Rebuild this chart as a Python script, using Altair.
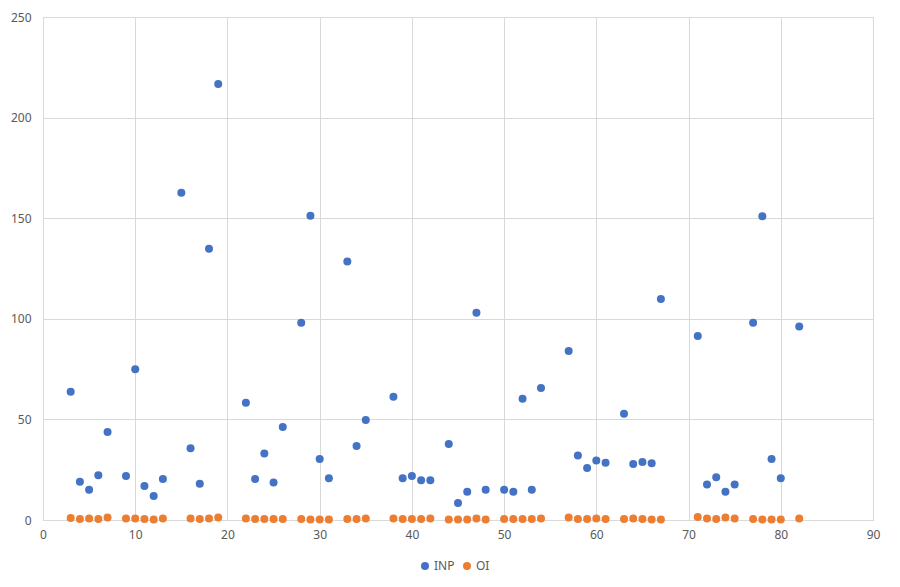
import altair as alt
import pandas as pd

inp_x = [3, 4, 5, 6, 7, 9, 10, 11, 12, 13, 15, 16, 17, 18, 19, 22, 23, 24, 25, 26,
         28, 29, 30, 31, 33, 34, 35, 38, 39, 40, 41, 42, 44, 45, 46, 47, 48, 50, 51, 52,
         53, 54, 57, 58, 59, 60, 61, 63, 64, 65, 66, 67, 71, 72, 73, 74, 75, 77, 78, 79,
         80, 82]
inp_y = [63.8, 19, 15, 22.2, 43.7, 21.9, 74.9, 16.9, 11.9, 20.4, 162.7, 35.6, 18, 134.8, 216.7,
         58.3, 20.4, 33.1, 18.7, 46.2,
         98, 151.2, 30.3, 20.7, 128.5, 36.8, 49.7, 61.3, 20.7, 21.9, 19.7, 19.7, 37.8, 8.4, 14, 103,
         15, 15, 14, 60.3, 15, 65.6, 84, 32, 25.8, 29.6, 28.5, 52.8, 27.8, 28.8, 28.2, 109.8,
         91.4, 17.7, 21.2, 14, 17.7, 98, 151, 30.3, 20.7, 96.2]

oi_x = [3, 4, 5, 6, 7, 9, 10, 11, 12, 13, 16, 17, 18, 19, 22, 23, 24, 25, 26,
        28, 29, 30, 31, 33, 34, 35, 38, 39, 40, 41, 42, 44, 45, 46, 47, 48, 50, 51, 52,
        53, 54, 57, 58, 59, 60, 61, 63, 64, 65, 66, 67, 71, 72, 73, 74, 75, 77, 78, 79,
        80, 82]
oi_y = [1.0, 0.5, 0.8, 0.5, 1.2, 0.8, 0.8, 0.5, 0.2, 0.8, 0.8, 0.5, 0.8, 1.2, 0.8, 0.5, 0.5, 0.5, 0.5,
        0.5, 0.2, 0.2, 0.2, 0.5, 0.5, 0.8, 0.8, 0.5, 0.5, 0.5, 0.8, 0.2, 0.2, 0.2, 0.8, 0.2, 0.5, 0.5, 0.5,
        0.5, 0.8, 1.2, 0.5, 0.5, 0.8, 0.5, 0.5, 0.8, 0.5, 0.2, 0.2, 1.5, 0.8, 0.5, 1.2, 0.8, 0.5, 0.2, 0.2,
        0.2, 0.8]

series = ["INP", "OI"]
colors = ["#4472C4", "#ED7D31"]

df = pd.concat([
    pd.DataFrame({"x": inp_x, "y": inp_y, "series": "INP"}),
    pd.DataFrame({"x": oi_x, "y": oi_y, "series": "OI"}),
], ignore_index=True)

font = "Noto Sans"
grid = "#d9d9d9"
txt = "#595959"

chart = alt.Chart(df).mark_circle(size=64, opacity=1).encode(
    x=alt.X("x:Q", scale=alt.Scale(domain=[0, 90], nice=False),
            axis=alt.Axis(values=list(range(0, 91, 10)), title=None, grid=True,
                          gridColor=grid, domain=False, ticks=False, labelFlush=False,
                          labelPadding=9, labelFontSize=12, labelColor=txt, labelFont=font)),
    y=alt.Y("y:Q", scale=alt.Scale(domain=[0, 250], nice=False),
            axis=alt.Axis(values=list(range(0, 251, 50)), title=None, grid=True,
                          gridColor=grid, domain=False, ticks=False, labelFlush=False,
                          labelPadding=12, labelFontSize=12, labelColor=txt, labelFont=font)),
    color=alt.Color("series:N", scale=alt.Scale(domain=series, range=colors),
                    legend=alt.Legend(title=None, orient="none", direction="horizontal",
                                      legendX=376, legendY=543, symbolSize=64,
                                      symbolType="circle", labelFontSize=12,
                                      labelColor=txt, labelFont=font, columnPadding=6,
                                      labelOffset=3)),
    order=alt.Order("series:N", sort="ascending"),
).properties(
    width=830, height=503,
    autosize=alt.AutoSizeParams(type="none"),
    padding={"left": 35, "top": 9, "right": 19, "bottom": 59},
).configure_view(stroke=None).configure(background="white")

chart.save("out.html", embed_options={"renderer": "svg", "actions": False})
